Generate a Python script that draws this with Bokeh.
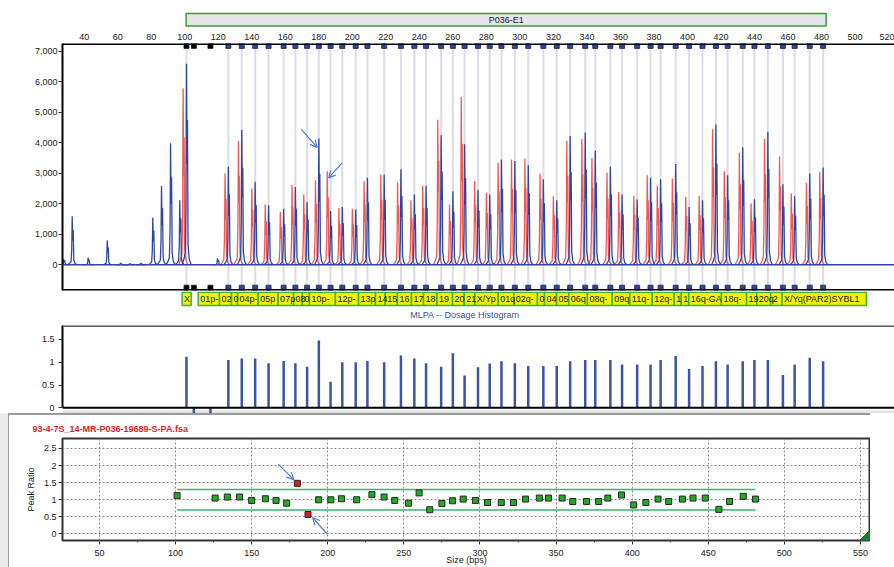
import numpy as np
from bokeh.plotting import figure
from bokeh.layouts import column
from bokeh.models import (Range1d, SingleIntervalTicker, FixedTicker, NumeralTickFormatter,
                          LinearAxis, Span, Arrow, OpenHead)
from bokeh.core.properties import value
from bokeh.embed import file_html
from bokeh.resources import INLINE

FONT = "Liberation Sans"
W = 894

# ---------------- data ----------------
panel_name = "P036-E1"
panel_span = [100.8, 482.8]

probe_sizes = [101, 126, 134, 142, 150, 159, 166, 173, 180, 187, 194, 202, 209, 219, 229,
               237, 244, 253, 260, 267, 275, 282, 289, 297, 305, 314, 322, 330, 339, 345,
               354, 361, 370, 378, 384, 393, 401, 409, 417, 424, 433, 440, 448, 457, 464,
               473, 481]
peak_ratio = [1.12, 1.05, 1.08, 1.08, 0.98, 1.03, 0.98, 0.90, 1.48, 0.57, 1.00, 1.00, 1.03,
              1.00, 1.15, 1.08, 0.98, 0.90, 1.20, 0.71, 0.89, 0.97, 1.02, 0.98, 0.92, 0.92,
              0.92, 1.02, 1.05, 1.05, 1.05, 0.95, 0.95, 0.95, 1.05, 1.14, 0.85, 0.92, 1.02,
              0.95, 1.02, 1.05, 1.05, 0.72, 0.95, 1.10, 1.02]
sample_height = [6590, 3210, 4420, 2720, 1950, 1840, 2550, 2060, 4140, 1765, 1895, 1810, 2850,
                 2960, 3135, 2300, 2590, 4250, 2410, 3955, 2460, 2300, 3450, 3400, 3265, 2800,
                 2115, 4220, 4340, 3740, 3210, 2300, 2140, 2850, 2800, 3300, 1895, 2115, 4600,
                 2935, 3850, 2150, 4360, 2640, 2245, 2990, 3190]
reference_height = [5790, 2990, 4055, 2500, 1980, 1730, 2610, 2300, 2770, 3070, 1860, 1840,
                    2740, 2960, 2700, 2115, 2590, 4750, 1980, 5510, 2750, 2355, 3345, 3450,
                    3485, 2990, 2245, 4065, 4120, 3510, 3015, 2390, 2260, 2935, 2590, 2830,
                    2225, 2260, 4440, 3070, 3670, 2005, 4140, 3560, 2335, 2685, 3045]
reference_shift = -2.0          # reference peaks run ~2 bp ahead of the sample peaks

control_sizes = [105.4, 115.3]
control_dosage = [-0.2, -0.2]

extra_peak_sizes = [27.8, 32.8, 42.3, 53.7, 61.6, 67.0, 73.6, 80.9, 86.1, 91.5, 97.0, 119.5]
extra_peak_height = [190, 1590, 230, 800, 60, 40, 60, 1546, 2586, 3980, 2115, 210]

label_text = ["X", "01p-", "02", "0", "04p-", "05p", "07p", "08", "0", "10p-", "12p-", "13p",
              "14", "15", "16", "17", "18", "19", "20", "21", "X/Yp", "01q", "02q-", "0", "04",
              "05", "06q", "08q-", "09q", "11q-", "12q-", "1", "1", "16q-GA", "18q-", "19",
              "20q", "2", "X/Yq(PAR2)SYBL1"]
label_start = [98.4, 108.0, 120.7, 127.9, 131.5, 143.8, 155.7, 164.9, 170.2, 174.4, 189.9,
               203.7, 213.8, 219.6, 226.9, 235.3, 242.5, 250.5, 259.8, 266.8, 273.1, 287.1,
               296.4, 310.5, 314.7, 321.9, 329.2, 340.3, 355.1, 365.6, 379.0, 392.1, 396.3,
               400.8, 420.3, 435.3, 441.4, 449.7, 456.5]
label_end = [103.8] + label_start[2:] + [506.8]

top_ticks = list(range(0, 7001, 1000))
dosage_ticks = [0, 0.5, 1, 1.5]
ratio_ticks = [0, 0.5, 1, 1.5, 2, 2.5]
ratio_limits = [0.7, 1.3]
ratio_title = "93-4-7S_14-MR-P036-19689-S-PA.fsa"

trace_arrows = [(169.5, 4441, 179.0, 3849), (193.9, 3342, 185.9, 2849)]
ratio_arrows = [(167.4, 2.04, 177.7, 1.59), (199.6, 0.0, 190.1, 0.48)]

# ---------------- styles ----------------
BLUE = "#2f47a2"
RED = "#f04646"
GRAYLINE = "#dcdce6"
shape_dx = np.array([-2.6, -1.5, -0.7, -0.3, 0.0, 0.3, 0.6, 0.95, 1.6, 2.8])
shape_fy = np.array([0.0, 0.03, 0.06, 0.3, 1.0, 0.5, 0.72, 0.1, 0.03, 0.0])


def peak_paths(centers, heights):
    xs = [list(c + shape_dx) for c in centers]
    ys = [list(h * shape_fy) for h in heights]
    return xs, ys


x_range = Range1d(27.0, 523.6)


def strip(height, y_range, **kw):
    opts = dict(min_border_left=62, min_border_right=0, min_border_top=0, min_border_bottom=0)
    opts.update(kw)
    p = figure(width=W, height=height, x_range=x_range, y_range=y_range,
               output_backend="svg", toolbar_location=None, tools="",
               x_axis_location=None, y_axis_location=None, **opts)
    p.grid.visible = False
    p.outline_line_color = None
    p.border_fill_color = "white"
    p.background_fill_color = "white"
    return p


def style_left(ax, fmt):
    ax.formatter = NumeralTickFormatter(format=fmt)
    ax.axis_line_color = "black"
    ax.axis_line_width = 2
    ax.major_tick_out = 4
    ax.major_tick_in = 0
    ax.major_tick_line_color = "#333333"
    ax.minor_tick_line_color = None
    ax.major_label_text_font = FONT
    ax.major_label_text_font_size = "9px"
    ax.major_label_text_color = "#222222"


# ---------------- F1: panel bar + size labels ----------------
p1 = strip(42, Range1d(-0.128, 2.053), min_border_bottom=13)
ax1 = LinearAxis(ticker=SingleIntervalTicker(interval=20), axis_line_color=None,
                 major_tick_line_color=None, minor_tick_line_color=None,
                 major_label_standoff=0, major_label_text_font_size="9px",
                 major_label_text_font=FONT, major_label_text_color="#222222")
p1.add_layout(ax1, "below")
p1.quad(left=[panel_span[0]], right=[panel_span[1]], bottom=[0], top=[1],
        fill_color="#e6e6ea", line_color="#3c9c3c", line_width=1.5)
p1.text(x=[(panel_span[0] + panel_span[1]) / 2], y=[0.5], text=[panel_name],
        text_align="center", text_baseline="middle", text_font=value(FONT),
        text_font_size="9px", text_color="#222222")

# ---------------- F2: electropherogram ----------------
yr2 = Range1d(-842, 7253)
p2 = strip(249, yr2, min_border_top=1, min_border_bottom=1)
left2 = LinearAxis(ticker=FixedTicker(ticks=top_ticks), major_label_standoff=1)
style_left(left2, "0,0")
p2.add_layout(left2, "left")
ppu = 247 / (yr2.end - yr2.start)

p2.segment(x0=probe_sizes, y0=yr2.start, x1=probe_sizes, y1=yr2.end,
           line_color=GRAYLINE, line_width=2)
rx, ry = peak_paths([s + reference_shift for s in probe_sizes], reference_height)
p2.multi_line(rx, ry, line_color=RED, line_width=1.3, line_alpha=0.9)
p2.add_layout(Span(location=0, dimension="width", line_color=BLUE, line_width=1.4))
bx, by = peak_paths(list(probe_sizes) + extra_peak_sizes, list(sample_height) + extra_peak_height)
p2.multi_line(bx, by, line_color=BLUE, line_width=1.3)
for edge in (yr2.end - 0.5 / ppu, yr2.start + 0.5 / ppu):
    p2.add_layout(Span(location=edge, dimension="width", line_color="black", line_width=2))

top_my = yr2.end - 2.4 / ppu
bot_my = yr2.start + 2.8 / ppu
marker_x = probe_sizes + control_sizes
marker_col = ["black"] + [BLUE] * (len(probe_sizes) - 1) + ["black"] * len(control_sizes)
for my in (top_my, bot_my):
    p2.scatter(x=marker_x, y=[my] * len(marker_x), marker="square", size=5,
               fill_color=marker_col, line_color="#15204a", line_width=0.8)
for (xs0, ys0, xs1, ys1) in trace_arrows:
    p2.add_layout(Arrow(x_start=xs0, y_start=ys0, x_end=xs1, y_end=ys1,
                        line_color="#4a7bd0", line_width=1.2,
                        end=OpenHead(size=7, line_color="#4a7bd0", line_width=1.2)))

# ---------------- F3: probe labels ----------------
p3 = strip(31, Range1d(31, 0))
p3.quad(left=label_start, right=label_end, top=0.7, bottom=14,
        fill_color="#f2f200", line_color="#3cb043", line_width=1.5)
p3.text(x=label_start, y=7.6, text=label_text, x_offset=2, text_align="left",
        text_baseline="middle", text_font=value(FONT), text_font_size="9px",
        text_color="#1a1a1a")
p3.text(x=[267.2], y=[23.3], text=["MLPA -- Dosage Histogram"], text_align="center",
        text_baseline="middle", text_font=value(FONT), text_font_size="9px",
        text_color="#3a50a8")

# ---------------- F4: dosage histogram ----------------
yr4 = Range1d(-0.125, 1.807)
p4 = strip(91, yr4, min_border_top=3)
left4 = LinearAxis(ticker=FixedTicker(ticks=dosage_ticks), major_label_standoff=4,
                   bounds=(0, yr4.end))
style_left(left4, "0.[0]")
p4.add_layout(left4, "left")
ppu4 = 88 / (yr4.end - yr4.start)
p4.add_layout(Span(location=yr4.end - 0.5 / ppu4, dimension="width",
                   line_color="#5a5a5a", line_width=2))
p4.add_layout(Span(location=0, dimension="width", line_color="black", line_width=2))
p4.add_layout(Span(location=yr4.start + 1.5 / ppu4, dimension="width",
                   line_color="#e2e2e2", line_width=3, level="underlay"))
p4.segment(x0=probe_sizes, y0=0, x1=probe_sizes, y1=peak_ratio,
           line_color="#3d54a6", line_width=2.5)
p4.segment(x0=control_sizes, y0=0, x1=control_sizes, y1=control_dosage,
           line_color="#3d54a6", line_width=2.5)

# ---------------- F5: ratio plot ----------------
xr5 = Range1d(25.7, 556.6)
yr5 = Range1d(-0.19, 2.79)
p5 = figure(width=870, height=154, x_range=xr5, y_range=yr5, title=ratio_title,
            output_backend="svg", toolbar_location=None, tools="",
            min_border_left=62, min_border_right=0, min_border_top=25, min_border_bottom=0)
p5.border_fill_color = None
p5.background_fill_color = "white"
p5.styles = {"background-color": "white",
             "box-shadow": "inset 8px 0 0 #ececec, inset 9px 2px 0 #9a9a9a"}
p5.title.align = "left"
p5.title.offset = -30
p5.title.text_font = FONT
p5.title.text_font_size = "9px"
p5.title.text_font_style = "bold"
p5.title.text_color = "#e02424"
p5.title.standoff = 10
p5.outline_line_color = "#333333"
p5.outline_line_width = 2
p5.xaxis.ticker = SingleIntervalTicker(interval=50, num_minor_ticks=2)
p5.yaxis.ticker = FixedTicker(ticks=ratio_ticks)
p5.yaxis.formatter = NumeralTickFormatter(format="0.[0]")
for ax in (p5.xaxis[0], p5.yaxis[0]):
    ax.axis_line_color = None
    ax.major_tick_in = 0
    ax.major_tick_out = 4
    ax.minor_tick_in = 0
    ax.minor_tick_out = 2
    ax.major_tick_line_color = "#333333"
    ax.minor_tick_line_color = "#555555"
    ax.major_label_text_font = FONT
    ax.major_label_text_font_size = "9px"
    ax.major_label_text_color = "#222222"
    ax.major_label_standoff = 2
    ax.axis_label_text_font = FONT
    ax.axis_label_text_font_size = "9px"
    ax.axis_label_text_font_style = "normal"
    ax.axis_label_text_color = "#222222"
p5.yaxis.minor_tick_line_color = None
p5.xaxis.major_label_standoff = 5
p5.xaxis.axis_label = "Size (bps)"
p5.xaxis.axis_label_standoff = -4
p5.yaxis.axis_label = "Peak Ratio"
p5.yaxis.axis_label_standoff = 5
p5.grid.grid_line_color = "#8a8a8a"
p5.grid.grid_line_dash = "2 2"
p5.grid.grid_line_width = 1

for lim in ratio_limits:
    p5.segment(x0=probe_sizes[0], y0=lim, x1=probe_sizes[-1], y1=lim,
               line_color="#3cb371", line_width=1.6)
pt_col = ["#d42020" if (v > ratio_limits[1] or v < ratio_limits[0]) else "#22aa22"
          for v in peak_ratio]
p5.scatter(x=probe_sizes, y=peak_ratio, marker="square", size=6, fill_color=pt_col,
           line_color="#262626", line_width=1)
for (xs0, ys0, xs1, ys1) in ratio_arrows:
    p5.add_layout(Arrow(x_start=xs0, y_start=ys0, x_end=xs1, y_end=ys1,
                        line_color="#4a7bd0", line_width=1.2,
                        end=OpenHead(size=7, line_color="#4a7bd0", line_width=1.2)))
gx = (xr5.end - xr5.start) / 808
gy = (yr5.end - yr5.start) / 102
p5.patch(x=[xr5.end, xr5.end, xr5.end - 11 * gx], y=[yr5.start, yr5.start + 11 * gy, yr5.start],
         fill_color="#1d7a36", line_color="#1d7a36")

layout = column(p1, p2, p3, p4, p5)
open("out.html", "w").write(file_html(layout, INLINE))
